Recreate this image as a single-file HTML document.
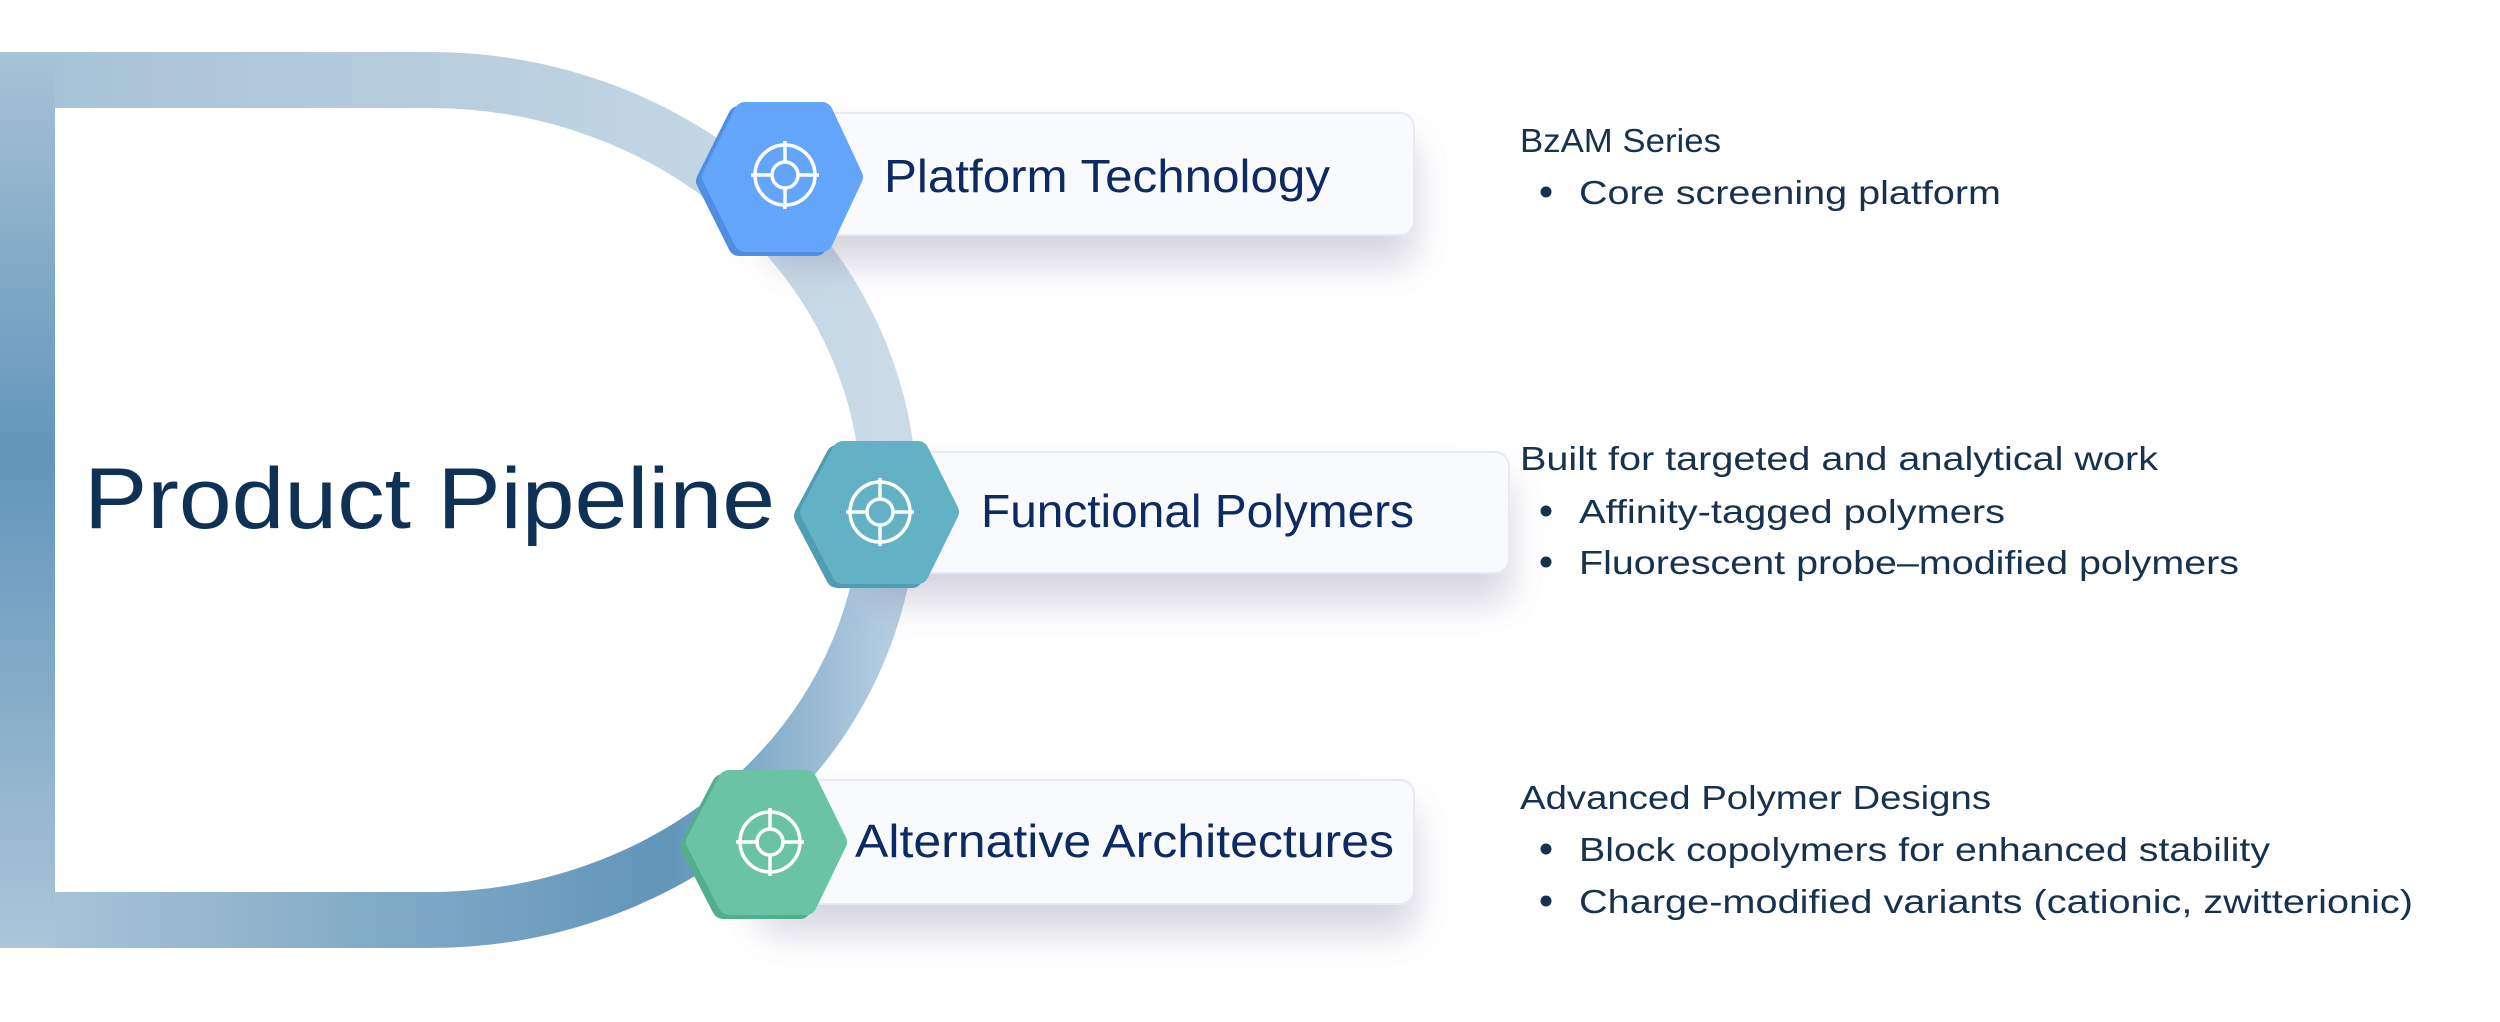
<!DOCTYPE html>
<html><head><meta charset="utf-8"><style>
html,body{margin:0;padding:0;background:#fff;}
svg{display:block}
</style></head><body>
<svg width="2500" height="1022" viewBox="0 0 2500 1022" xmlns="http://www.w3.org/2000/svg">
<defs>
<linearGradient id="lb" x1="0" y1="52" x2="0" y2="948" gradientUnits="userSpaceOnUse">
<stop offset="0" stop-color="#a8c2d6"/><stop offset="0.45" stop-color="#6196ba"/><stop offset="1" stop-color="#acc5d8"/></linearGradient>
<linearGradient id="tb" x1="0" y1="0" x2="889" y2="0" gradientUnits="userSpaceOnUse">
<stop offset="0" stop-color="#a5c0d5"/><stop offset="1" stop-color="#cadbe7"/></linearGradient>
<linearGradient id="bb" x1="0" y1="0" x2="889" y2="0" gradientUnits="userSpaceOnUse">
<stop offset="0" stop-color="#aec7d9"/><stop offset="0.75" stop-color="#6195b9"/><stop offset="1" stop-color="#b5cde0"/></linearGradient>
<filter id="sh" x="-20%" y="-40%" width="140%" height="200%">
<feDropShadow dx="0" dy="28" stdDeviation="18" flood-color="#6d6890" flood-opacity="0.28"/></filter>
</defs>
<!-- D shape -->
<path d="M0,80 H430 A459,420 0 0 1 889,500" fill="none" stroke="url(#tb)" stroke-width="56"/>
<path d="M889,500 A459,420 0 0 1 430,920 H0" fill="none" stroke="url(#bb)" stroke-width="56"/>
<rect x="0" y="52" width="55" height="896" fill="url(#lb)"/>
<text x="84" y="528" font-family="Liberation Sans, sans-serif" font-size="86" fill="#0f3155" textLength="691" lengthAdjust="spacingAndGlyphs">Product Pipeline</text>
<!-- cards -->
<rect x="770" y="113" width="644" height="122" rx="14" fill="#f8fafd" stroke="#e6eaf2" stroke-width="2" filter="url(#sh)"/>
<rect x="870" y="452" width="639" height="121" rx="14" fill="#f8fafd" stroke="#e6eaf2" stroke-width="2" filter="url(#sh)"/>
<rect x="760" y="780" width="654" height="124" rx="14" fill="#f8fafd" stroke="#e6eaf2" stroke-width="2" filter="url(#sh)"/>
<g font-family="Liberation Sans, sans-serif" font-size="46" fill="#0d2a63">
<text x="884" y="192" textLength="446" lengthAdjust="spacingAndGlyphs">Platform Technology</text>
<text x="981" y="527" textLength="433" lengthAdjust="spacingAndGlyphs">Functional Polymers</text>
<text x="855" y="857" textLength="539" lengthAdjust="spacingAndGlyphs">Alternative Architectures</text>
</g>
<!-- hexes -->
<g stroke-linejoin="round" stroke-width="22">
<polygon transform="translate(-6,4)" points="713,177 745,113 822,113 852,177 822,241 745,241" fill="#4f8ee0" stroke="#4f8ee0"/>
<polygon points="713,177 745,113 822,113 852,177 822,241 745,241" fill="#64a5fc" stroke="#64a5fc"/>
<polygon transform="translate(-6,4)" points="811,512 843,452 918,452 948,512 918,573 843,573" fill="#4f9db2" stroke="#4f9db2"/>
<polygon points="811,512 843,452 918,452 948,512 918,573 843,573" fill="#63b1c5" stroke="#63b1c5"/>
<polygon transform="translate(-6,4)" points="697,842 729,781 806,781 836,842 806,904 729,904" fill="#55ad8f" stroke="#55ad8f"/>
<polygon points="697,842 729,781 806,781 836,842 806,904 729,904" fill="#69c3a4" stroke="#69c3a4"/>
</g>
<g fill="none" stroke="#fff" stroke-width="3.5">
<g transform="translate(785,175)"><circle r="30"/><circle r="13"/><path d="M-34,0H-13M13,0H34M0,-34V-13M0,13V34"/></g>
<g transform="translate(880,512)"><circle r="30"/><circle r="13"/><path d="M-34,0H-13M13,0H34M0,-34V-13M0,13V34"/></g>
<g transform="translate(770,842)"><circle r="30"/><circle r="13"/><path d="M-34,0H-13M13,0H34M0,-34V-13M0,13V34"/></g>
</g>
<!-- right text -->
<g font-family="Liberation Sans, sans-serif" font-size="33" fill="#17324f">
<text x="1520" y="152" textLength="201" lengthAdjust="spacingAndGlyphs">BzAM Series</text>
<text x="1579" y="204" textLength="422" lengthAdjust="spacingAndGlyphs">Core screening platform</text>
<text x="1520" y="470" textLength="638" lengthAdjust="spacingAndGlyphs">Built for targeted and analytical work</text>
<text x="1579" y="523" textLength="426" lengthAdjust="spacingAndGlyphs">Affinity-tagged polymers</text>
<text x="1579" y="574" textLength="660" lengthAdjust="spacingAndGlyphs">Fluorescent probe–modified polymers</text>
<text x="1520" y="809" textLength="471" lengthAdjust="spacingAndGlyphs">Advanced Polymer Designs</text>
<text x="1579" y="861" textLength="691" lengthAdjust="spacingAndGlyphs">Block copolymers for enhanced stability</text>
<text x="1579" y="913" textLength="834" lengthAdjust="spacingAndGlyphs">Charge-modified variants (cationic, zwitterionic)</text>
</g>
<g fill="#17324f">
<circle cx="1546" cy="192" r="5.5"/><circle cx="1546" cy="511" r="5.5"/><circle cx="1546" cy="562" r="5.5"/>
<circle cx="1546" cy="849" r="5.5"/><circle cx="1546" cy="901" r="5.5"/>
</g>
</svg>
</body></html>
